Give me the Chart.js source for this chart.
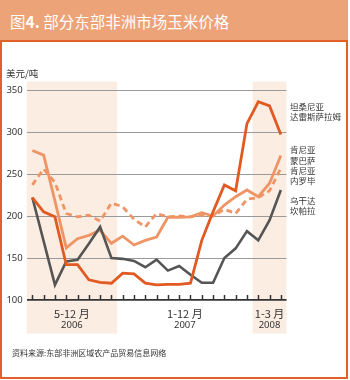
<!DOCTYPE html>
<html>
<head>
<meta charset="utf-8">
<script src="https://cdn.jsdelivr.net/npm/chart.js@4/dist/chart.umd.min.js"></script>
<style>
body{margin:0;background:#fff;}
#wrap{position:relative;width:350px;height:380px;font-family:"Noto Sans CJK SC",sans-serif;}
#header{position:absolute;left:0;top:0;width:348px;height:40px;background:#EDA378;}
#title{position:absolute;left:10px;top:10px;color:#fff;font-size:15.5px;line-height:22px;white-space:nowrap;}
#frame{position:absolute;left:0;top:40px;width:348px;height:339px;box-sizing:border-box;border:2px solid #E2612B;}
#chart{position:absolute;left:0;top:0;}
</style>
</head>
<body>
<div id="wrap">
  <div id="header"><div id="title">图<b>4.</b> 部分东部非洲市场玉米价格</div></div>
  <div id="frame"></div>
  <canvas id="chart" width="350" height="380"></canvas>
</div>
<script>
// months may 2006 - mar 2008
const months = ["2006-05","2006-06","2006-07","2006-08","2006-09","2006-10","2006-11","2006-12",
  "2007-01","2007-02","2007-03","2007-04","2007-05","2007-06","2007-07","2007-08","2007-09","2007-10","2007-11","2007-12",
  "2008-01","2008-02","2008-03"];

// prices, usd per ton
const tanzania = [222,205,199,142,142,124,121,120,132,131,120,118,118.5,118.5,120,171,205,237,230,310,336,331,297];
const mombasa  = [278,272.5,218,162,173,177,183,167.5,176,165.5,171,175,198.5,198.5,199,204,200,213,223,231,223,239,272];
const nairobi  = [237,256,240,203,199,201,194,215.5,211,196,187,203,199,200,199,201,200,208,203,220,222,230,257];
const uganda   = [222,170,118,146,148,167,187,150,149,146.5,139,148,135,140.5,130,120.5,120.5,150,161.5,182,171,195,231];

// series names (two lines each)
const seriesNames = [["坦桑尼亚","达雷斯萨拉姆"],["肯尼亚","蒙巴萨"],["肯尼亚","内罗毕"],["乌干达","坎帕拉"]];

// x axis groups
const groupLabels = ["5-12 月","1-12 月","1-3 月"];
const groupYears = ["2006","2007","2008"];
const groupStarts = [0,8,20];
const groupEnds = [7,19,22];
const shadedGroups = [0,2];

// y ticks
const yMin = 100, yMax = 350, yStep = 50;

const dark = "#333";

const decorations = {
  id: "decorations",
  beforeDraw(chart) {
    // shaded year bands
    const ctx = chart.ctx, x = chart.scales.x, y = chart.scales.y;
    const half = (x.getPixelForValue(1) - x.getPixelForValue(0)) / 2;
    const top = y.getPixelForValue(360), bottom = y.getPixelForValue(60);
    ctx.save();
    ctx.fillStyle = "#FCEDE3";
    shadedGroups.forEach(g => {
      const x0 = x.getPixelForValue(groupStarts[g]) - half;
      const x1 = x.getPixelForValue(groupEnds[g]) + half;
      ctx.fillRect(x0, top, x1 - x0, bottom - top);
    });
    ctx.restore();
  },
  afterDraw(chart) {
    const ctx = chart.ctx, x = chart.scales.x, y = chart.scales.y;
    const base = y.getPixelForValue(yMin);
    ctx.save();
    // tick marks pointing up
    ctx.strokeStyle = dark;
    ctx.lineWidth = 1.5;
    months.forEach((m, i) => {
      const px = Math.round(x.getPixelForValue(i)) + 0.5;
      ctx.beginPath();
      ctx.moveTo(px, base);
      ctx.lineTo(px, base - 5);
      ctx.stroke();
    });
    // group labels
    ctx.fillStyle = dark;
    ctx.textAlign = "center";
    ctx.textBaseline = "middle";
    groupLabels.forEach((lab, g) => {
      const cx = (x.getPixelForValue(groupStarts[g]) + x.getPixelForValue(groupEnds[g])) / 2;
      ctx.font = "11px 'Noto Sans CJK SC'";
      ctx.fillText(lab, cx, base + 13.5);
      ctx.font = "9.5px 'Noto Sans'";
      ctx.fillText(groupYears[g], cx, base + 25.5);
    });
    // unit
    ctx.textAlign = "left";
    ctx.font = "9.5px 'Noto Sans CJK SC'";
    ctx.fillText("美元/吨", 6, y.getPixelForValue(370));
    // series labels on the right
    ctx.font = "8.5px 'Noto Sans CJK SC'";
    const labelAt = [324, 272, 248, 212];
    seriesNames.forEach((n, i) => {
      const py = y.getPixelForValue(labelAt[i]);
      ctx.fillText(n[0], 290, py - 5.3);
      ctx.fillText(n[1], 290, py + 5.3);
    });
    // source
    ctx.font = "8px 'Noto Sans CJK SC'";
    ctx.fillText("资料来源:东部非洲区域农产品贸易信息网络", 12, 353);
    ctx.restore();
  }
};

new Chart("chart", {
  type: "line",
  data: {
    labels: months,
    datasets: [{
      data: tanzania,
      borderColor: "#E05A22",
      borderWidth: 2.8
    },{
      data: uganda,
      borderColor: "#555555",
      borderWidth: 2.6
    },{
      data: mombasa,
      borderColor: "#EF9565",
      borderWidth: 2.8
    },{
      data: nairobi,
      borderColor: "#EF9565",
      borderWidth: 2.8,
      borderDash: [6, 4]
    }]
  },
  options: {
    responsive: false,
    animation: false,
    elements: { point: { radius: 0 }, line: { tension: 0 } },
    layout: { padding: { left: 0, top: 90, right: 63.5, bottom: 80 } },
    plugins: { legend: { display: false }, tooltip: { enabled: false } },
    scales: {
      x: { display: false, offset: true },
      y: {
        min: yMin, max: yMax,
        afterFit(scale) { scale.width = 26.7; },
        border: { display: false },
        grid: {
          drawTicks: false,
          color: c => c.tick.value === yMin ? dark : "#9a9a9a",
          lineWidth: c => c.tick.value === yMin ? 1.8 : 1
        },
        ticks: {
          stepSize: yStep,
          padding: 4,
          color: dark,
          font: { family: "Noto Sans", size: 9.5 }
        }
      }
    }
  },
  plugins: [decorations]
});
</script>
</body>
</html>
